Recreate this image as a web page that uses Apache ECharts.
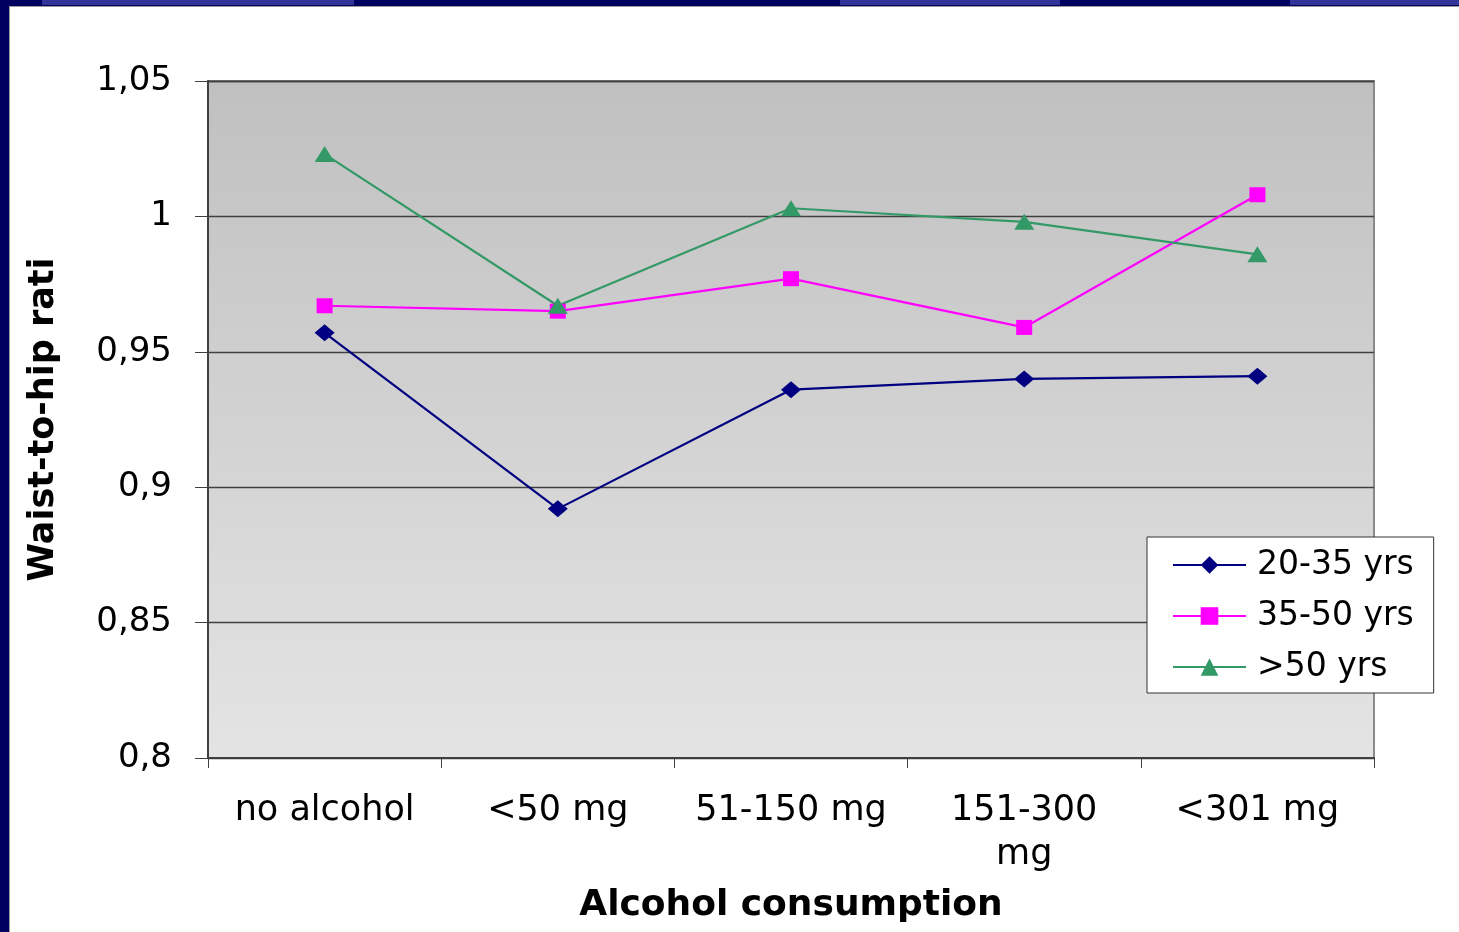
<!DOCTYPE html>
<html>
<head>
<meta charset="utf-8">
<script src="https://cdn.jsdelivr.net/npm/echarts@6/dist/echarts.min.js"></script>
<style>
  html, body { margin: 0; padding: 0; width: 1459px; height: 932px; overflow: hidden; background: #000060; }
  #panel { position: absolute; left: 9px; top: 6px; right: 0; bottom: 0; background: #ffffff; border-left: 1px solid #9a9a9a; border-top: 1px solid #9a9a9a; }
  .strip { position: absolute; top: 0; height: 5px; background: #333399; }
  #chart { position: absolute; left: 0; top: 0; width: 1459px; height: 932px; }
</style>
</head>
<body>
<div class="strip" style="left:42px;width:312px;"></div>
<div class="strip" style="left:840px;width:220px;"></div>
<div class="strip" style="left:1290px;width:169px;"></div>
<div id="panel"></div>
<div id="chart"></div>
<script>
// ---- data ----
const categories = ['no alcohol', '<50 mg', '51-150 mg', '151-300\nmg', '<301 mg'];
const seriesNames = ['20-35 yrs', '35-50 yrs', '>50 yrs'];
const values2035 = [0.957, 0.892, 0.936, 0.940, 0.941];
const values3550 = [0.967, 0.965, 0.977, 0.959, 1.008];
const valuesOver50 = [1.023, 0.967, 1.003, 0.998, 0.986];
const yTicks = [0.8, 0.85, 0.9, 0.95, 1.0, 1.05];
const xTitle = 'Alcohol consumption';
const yTitle = 'Waist-to-hip rati';

const FONT = 'DejaVu Sans';
const chart = echarts.init(document.getElementById('chart'), null, { renderer: 'canvas' });

const fmt = v => String(+(+v).toFixed(2)).replace('.', ',');

chart.setOption({
  animation: false,
  backgroundColor: 'transparent',
  textStyle: { fontFamily: FONT, color: '#000' },
  grid: {
    left: 208, right: 85, top: 81, bottom: 174,
    show: true,
    borderColor: '#8a8a8a',
    borderWidth: 2,
    backgroundColor: new echarts.graphic.LinearGradient(0, 0, 0, 1, [
      { offset: 0, color: '#c0c0c0' },
      { offset: 1, color: '#e4e4e4' }
    ])
  },
  legend: {
    orient: 'vertical',
    left: 1147, top: 537,
    padding: [8, 20, 6, 25],
    backgroundColor: '#ffffff',
    borderColor: '#333333',
    borderWidth: 1,
    borderRadius: 0,
    itemWidth: 73,
    itemHeight: 22,
    itemGap: 11,
    selectedMode: false,
    data: seriesNames,
    textStyle: { fontFamily: FONT, fontSize: 33, color: '#000', lineHeight: 40, padding: [0, 0, 0, 6] }
  },
  xAxis: {
    type: 'category',
    data: categories,
    boundaryGap: true,
    name: xTitle,
    nameLocation: 'middle',
    nameGap: 130,
    nameTextStyle: { fontFamily: FONT, fontSize: 36, fontWeight: 'bold', color: '#000' },
    axisLine: { show: true, lineStyle: { color: '#404040', width: 2 } },
    axisTick: { show: true, length: 10, lineStyle: { color: '#404040', width: 1 } },
    axisLabel: { fontFamily: FONT, fontSize: 35, color: '#000', margin: 31, lineHeight: 44, interval: 0 },
    splitLine: { show: false }
  },
  yAxis: {
    type: 'value',
    min: yTicks[0],
    max: yTicks[yTicks.length - 1],
    interval: yTicks[1] - yTicks[0],
    name: yTitle,
    nameLocation: 'middle',
    nameGap: 147,
    nameRotate: 90,
    nameTextStyle: { fontFamily: FONT, fontSize: 35, fontWeight: 'bold', color: '#000' },
    axisLine: { show: true, lineStyle: { color: '#404040', width: 2 } },
    axisTick: { show: true, length: 13, lineStyle: { color: '#404040', width: 1 } },
    axisLabel: { fontFamily: FONT, fontSize: 34, color: '#000', margin: 36, formatter: fmt },
    splitLine: { show: true, lineStyle: { color: '#404040', width: 1.3 } }
  },
  series: [
    {
      name: seriesNames[0], type: 'line', data: values2035,
      symbol: 'diamond', symbolSize: [20, 17],
      lineStyle: { color: '#000080', width: 2.2 },
      itemStyle: { color: '#000080' }
    },
    {
      name: seriesNames[1], type: 'line', data: values3550,
      symbol: 'rect', symbolSize: [16, 15],
      lineStyle: { color: '#ff00ff', width: 2.2 },
      itemStyle: { color: '#ff00ff' }
    },
    {
      name: seriesNames[2], type: 'line', data: valuesOver50,
      symbol: 'triangle', symbolSize: [20, 16],
      lineStyle: { color: '#339966', width: 2.2 },
      itemStyle: { color: '#339966' }
    }
  ]
});
</script>
</body>
</html>
